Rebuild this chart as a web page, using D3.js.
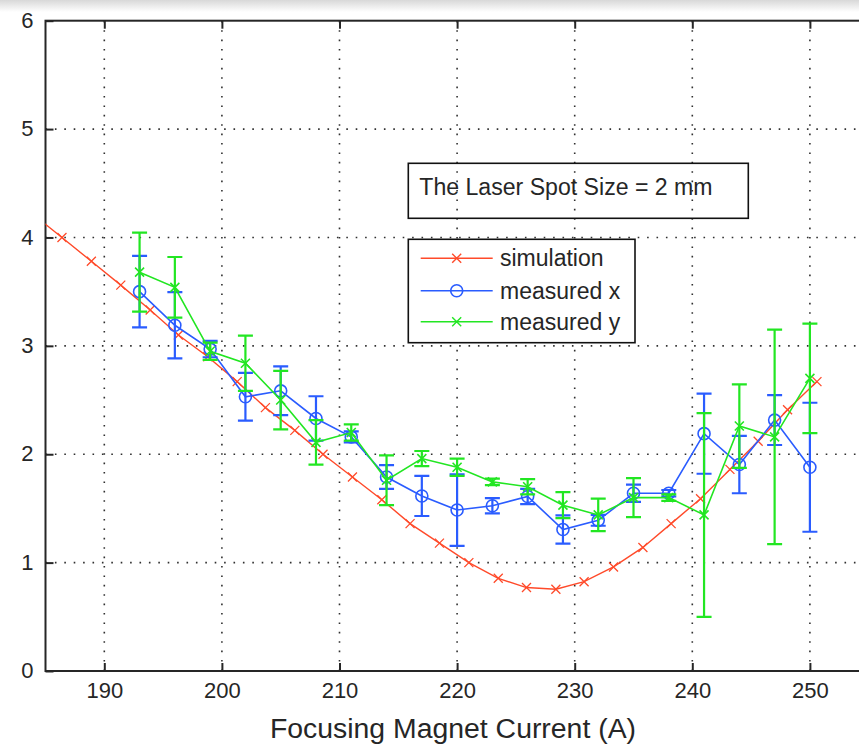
<!DOCTYPE html>
<html><head><meta charset="utf-8">
<script src="https://cdn.jsdelivr.net/npm/d3@7"></script>
<style>
body{margin:0;background:#fff}
svg{display:block}
text{font-family:Arial,"Liberation Sans",Helvetica,sans-serif;fill:#262626}
</style>
</head><body>
<svg id="c" width="859" height="747"></svg>
<script>
// ---- data ----
const simCurrent = [184.0,186.4,188.9,191.4,193.9,196.3,198.8,201.3,203.7,206.2,208.6,211.1,213.6,216.0,218.5,221.0,223.5,225.9,228.4,230.8,233.3,235.8,238.2,240.7,243.2,245.6,248.1,250.6];
const simSize    = [4.21,4.00,3.78,3.56,3.33,3.10,2.90,2.67,2.43,2.22,2.00,1.79,1.58,1.36,1.18,1.00,0.855,0.77,0.754,0.824,0.96,1.14,1.36,1.59,1.86,2.12,2.41,2.67];
const measCurrent = [193,196,199,202,205,208,211,214,217,220,223,226,229,232,235,238,241,244,247,250];
const measX    = [3.50,3.19,2.97,2.53,2.585,2.33,2.16,1.79,1.615,1.485,1.525,1.61,1.305,1.39,1.64,1.64,2.19,1.905,2.315,1.88];
const measXErr = [0.33,0.305,0.075,0.22,0.225,0.205,0.05,0.11,0.185,0.33,0.07,0.07,0.13,0.05,0.08,0.03,0.37,0.265,0.23,0.595];
const measY    = [3.68,3.54,2.95,2.84,2.50,2.11,2.20,1.76,1.96,1.88,1.745,1.70,1.53,1.44,1.60,1.60,1.44,2.26,2.16,2.70];
const measYErr = [0.365,0.28,0.08,0.255,0.27,0.205,0.075,0.23,0.07,0.08,0.03,0.07,0.12,0.15,0.18,0.03,0.94,0.385,0.99,0.505];
const xTicks = [190,200,210,220,230,240,250];
const yTicks = [0,1,2,3,4,5,6];
const xDomain = [185,255];
const yDomain = [0,6];
const xLabel = "Focusing Magnet Current (A)";
const noteText = "The Laser Spot Size = 2 mm";
const legendLabels = ["simulation","measured x","measured y"];

// ---- styles ----
const RED="#ff4a2a", BLUE="#2a5cff", GREEN="#22e622", INK="#262626";

const svg = d3.select("#c");
const defs = svg.append("defs");
const grad = defs.append("linearGradient").attr("id","topg").attr("x1",0).attr("x2",0).attr("y1",0).attr("y2",1);
grad.append("stop").attr("offset","0%").attr("stop-color","#d8d8d8");
grad.append("stop").attr("offset","100%").attr("stop-color","#ffffff");
svg.append("rect").attr("x",0).attr("y",0).attr("width",859).attr("height",12).attr("fill","url(#topg)");

const x = d3.scaleLinear().domain(xDomain).range([45.5,868.7]);
const y = d3.scaleLinear().domain(yDomain).range([671,20.7]);

defs.append("clipPath").attr("id","plot").append("rect")
  .attr("x",x(xDomain[0])).attr("y",y(yDomain[1]))
  .attr("width",x(xDomain[1])-x(xDomain[0])).attr("height",y(yDomain[0])-y(yDomain[1]));

// grid
const grid = svg.append("g").attr("stroke","#303030").attr("stroke-width",1.6).attr("stroke-dasharray","1.6,7.8");
grid.selectAll("line.v").data(xTicks).join("line").attr("class","v")
  .attr("x1",d=>x(d)).attr("x2",d=>x(d)).attr("y1",y(yDomain[0])).attr("y2",y(yDomain[1]));
grid.selectAll("line.h").data(yTicks.filter(t=>t>yDomain[0]&&t<yDomain[1])).join("line").attr("class","h")
  .attr("y1",d=>y(d)).attr("y2",d=>y(d)).attr("x1",x(xDomain[0])).attr("x2",x(xDomain[1]));

// axes
const fs = 22;
const xa = svg.append("g").attr("transform",`translate(0,${y(0)})`)
  .call(d3.axisBottom(x).tickValues(xTicks).tickSizeInner(-8).tickSizeOuter(0).tickPadding(11).tickFormat(d3.format("d")));
const ya = svg.append("g").attr("transform",`translate(${x(xDomain[0])},0)`)
  .call(d3.axisLeft(y).tickValues(yTicks).tickSizeInner(-8).tickSizeOuter(0).tickPadding(12).tickFormat(d3.format("d")));
const ta = svg.append("g").attr("transform",`translate(0,${y(yDomain[1])})`)
  .call(d3.axisTop(x).tickValues(xTicks).tickSizeInner(-8).tickSizeOuter(0).tickFormat(""));
[xa,ya,ta].forEach(g=>{
  g.select(".domain").remove();
  g.selectAll(".tick line").attr("stroke",INK).attr("stroke-width",2);
  g.selectAll(".tick text").attr("font-size",fs).attr("fill",INK).style("font-family","Arial, 'Liberation Sans', sans-serif");
});
ya.selectAll(".tick text").attr("dy","0.3em");

// frame
svg.append("rect").attr("x",x(xDomain[0])).attr("y",y(yDomain[1]))
  .attr("width",x(xDomain[1])-x(xDomain[0])).attr("height",y(yDomain[0])-y(yDomain[1]))
  .attr("fill","none").attr("stroke",INK).attr("stroke-width",2);

// axis title
svg.append("text").attr("x",453).attr("y",738).attr("text-anchor","middle")
  .attr("font-size",28.4).text(xLabel);

// note box (transparent)
svg.append("rect").attr("x",408.3).attr("y",163.3).attr("width",340).attr("height",55)
  .attr("fill","none").attr("stroke","#111").attr("stroke-width",1.6);
svg.append("text").attr("x",419.3).attr("y",195).attr("font-size",23.1).attr("fill","#111").text(noteText);

// data layer
const plot = svg.append("g").attr("clip-path","url(#plot)");
const line = d3.line().x(d=>x(d[0])).y(d=>y(d[1]));
function xMark(g, px, py, s, color, w){
  g.append("path").attr("d",`M${px-s},${py-s}L${px+s},${py+s}M${px-s},${py+s}L${px+s},${py-s}`)
   .attr("stroke",color).attr("stroke-width",w).attr("fill","none");
}

// simulation
const simPts = simCurrent.map((c,i)=>[c,simSize[i]]);
plot.append("path").datum(simPts).attr("d",line).attr("fill","none").attr("stroke",RED).attr("stroke-width",1.4);
const simG = plot.append("g");
simPts.forEach(p=>xMark(simG,x(p[0]),y(p[1]),4.5,RED,1.3));

// measured series with error bars
function series(vals, errs, color, marker){
  const pts = measCurrent.map((c,i)=>[c,vals[i],errs[i]]);
  const g = plot.append("g");
  const eb = g.append("g").attr("stroke",color).attr("stroke-width",2.2).attr("fill","none");
  pts.forEach(p=>{
    const cx=x(p[0]), t=y(p[1]+p[2]), b=y(p[1]-p[2]);
    eb.append("path").attr("d",`M${cx},${t}L${cx},${b}M${cx-7.5},${t}L${cx+7.5},${t}M${cx-7.5},${b}L${cx+7.5},${b}`);
  });
  g.append("path").datum(pts).attr("d",line).attr("fill","none").attr("stroke",color).attr("stroke-width",1.6);
  pts.forEach(p=>{
    if(marker==="o") g.append("circle").attr("cx",x(p[0])).attr("cy",y(p[1])).attr("r",6)
        .attr("fill","none").attr("stroke",color).attr("stroke-width",1.6);
    else xMark(g,x(p[0]),y(p[1]),4.5,color,1.6);
  });
}
series(measX, measXErr, BLUE, "o");
series(measY, measYErr, GREEN, "x");

// legend
const lg = svg.append("g");
lg.append("rect").attr("x",408.3).attr("y",239.3).attr("width",226.7).attr("height",103.4)
  .attr("fill","#fff").attr("stroke","#111").attr("stroke-width",1.6);
const rows = [[RED,"x"],[BLUE,"o"],[GREEN,"x"]];
const rowY = [258.3,290.7,321.7];
legendLabels.forEach((lab,i)=>{
  const cy=rowY[i], col=rows[i][0];
  lg.append("line").attr("x1",420.7).attr("x2",492.7).attr("y1",cy).attr("y2",cy).attr("stroke",col).attr("stroke-width",1.6);
  if(rows[i][1]==="o") lg.append("circle").attr("cx",456.7).attr("cy",cy).attr("r",6).attr("fill","none").attr("stroke",col).attr("stroke-width",1.6);
  else xMark(lg,456.7,cy,4.5,col,1.4);
  lg.append("text").attr("x",500).attr("y",cy+8).attr("font-size",23).attr("fill","#111").text(lab);
});
</script>
</body></html>
